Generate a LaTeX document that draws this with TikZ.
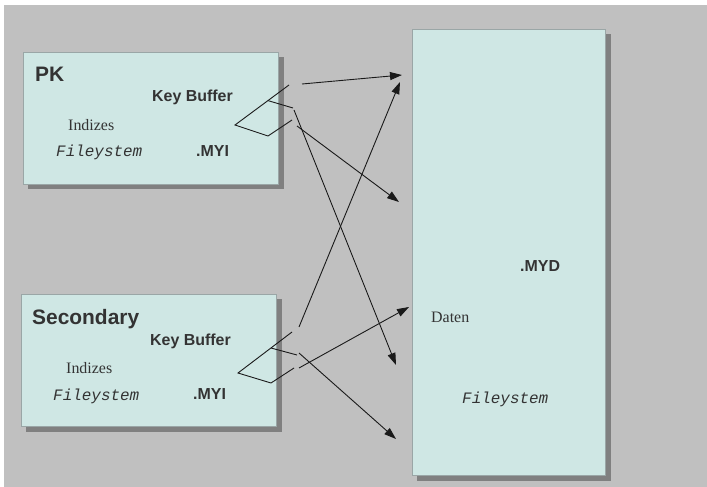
\documentclass[tikz,border=0pt]{standalone}
\usepackage{fontspec}
\setmainfont{Liberation Serif}
\setsansfont{Liberation Sans}
\setmonofont{Liberation Mono}
\usetikzlibrary{arrows.meta,calc}
\definecolor{bggray}{HTML}{C0C0C0}
\definecolor{boxfill}{HTML}{CFE7E4}
\definecolor{boxline}{HTML}{9AA6A6}
\definecolor{shadowgray}{HTML}{808080}
\definecolor{txt}{HTML}{333333}
\definecolor{linec}{HTML}{1A1A1A}
\tikzset{
  filebox/.style={draw=boxline, line width=0.8bp, fill=boxfill, inner sep=0pt, anchor=north west},
  lbl/.style={inner sep=0pt, anchor=base west, text=txt},
  bigsans/.style={lbl, font=\sffamily\bfseries\fontsize{21}{21}\selectfont},
  sans/.style={lbl, font=\sffamily\bfseries\fontsize{16}{16}\selectfont},
  serif/.style={lbl, font=\rmfamily\fontsize{16}{16}\selectfont},
  mono/.style={lbl, font=\ttfamily\itshape\fontsize{16}{16}\selectfont},
  wire/.style={draw=linec, line width=0.9bp},
  arr/.style={wire, -{Triangle[length=12bp,width=8bp]}},
}
\begin{document}
\begin{tikzpicture}[x=1bp,y=-1bp]
\useasboundingbox (0,0) rectangle (707,487);
\fill[white] (0,0) rectangle (707,487);
\fill[bggray] (4,5) rectangle (707,487);
% shadows
\fill[shadowgray] (28,57) rectangle (284,189);
\fill[shadowgray] (26,299) rectangle (282,432);
\fill[shadowgray] (417,34) rectangle (611,481);
% boxes
\node[filebox, minimum width=255bp, minimum height=132bp] (pk) at (23,52) {};
\node[filebox, minimum width=255bp, minimum height=132bp] (sec) at (21,294) {};
\node[filebox, minimum width=193bp, minimum height=446bp] (myd) at (412,29) {};
% PK texts
\node[bigsans] (pkt) at (35,82) {PK};
\node[sans] (pkkb) at (152,102) {Key Buffer};
\node[serif] (pkind) at (68,131) {Indizes};
\node[mono] (pkfs) at (56,157) {Fileystem};
\node[sans] (pkmyi) at (196,157) {.MYI};
% Secondary texts
\node[bigsans] (sect) at (32,324) {Secondary};
\node[sans] (seckb) at (150,345) {Key Buffer};
\node[serif] (secind) at (66,373) {Indizes};
\node[mono] (secfs) at (53,400) {Fileystem};
\node[sans] (secmyi) at (193,399) {.MYI};
% MYD texts
\node[sans] (mydt) at (520,272) {.MYD};
\node[serif] (mydd) at (431,322) {Daten};
\node[mono] (mydfs) at (462,403) {Fileystem};
% PK wedge
\coordinate (pa) at (289,85);
\coordinate (pb) at (235,125);
\coordinate (pc) at (268,136);
\coordinate (pd) at (292,120);
\coordinate (pe) at ($(pa)!0.39!(pb)$);
\coordinate (pf) at (293,108);
\draw[wire] (pa) -- (pb) -- (pc) -- (pd);
\draw[wire] (pe) -- (pf);
% Secondary wedge
\coordinate (sa) at (292,332);
\coordinate (sb) at (238,373);
\coordinate (sc) at (271,383);
\coordinate (sd) at (294,368);
\coordinate (se) at ($(sa)!0.39!(sb)$);
\coordinate (sf) at (297,355);
\draw[wire] (sa) -- (sb) -- (sc) -- (sd);
\draw[wire] (se) -- (sf);
% arrows from PK
\coordinate (p1s) at (302,84);  \coordinate (p1e) at (402,75);
\coordinate (p2s) at (297,126); \coordinate (p2e) at (399,202);
\coordinate (p3s) at (294,110); \coordinate (p3e) at (396,365);
\draw[arr] (p1s) -- (p1e);
\draw[arr] (p2s) -- (p2e);
\draw[arr] (p3s) -- (p3e);
% arrows from Secondary
\coordinate (s1s) at (299,327); \coordinate (s1e) at (400,82);
\coordinate (s2s) at (299,353); \coordinate (s2e) at (396,439);
\coordinate (s3s) at (299,368); \coordinate (s3e) at (409,307);
\draw[arr] (s1s) -- (s1e);
\draw[arr] (s2s) -- (s2e);
\draw[arr] (s3s) -- (s3e);
\end{tikzpicture}
\end{document}
